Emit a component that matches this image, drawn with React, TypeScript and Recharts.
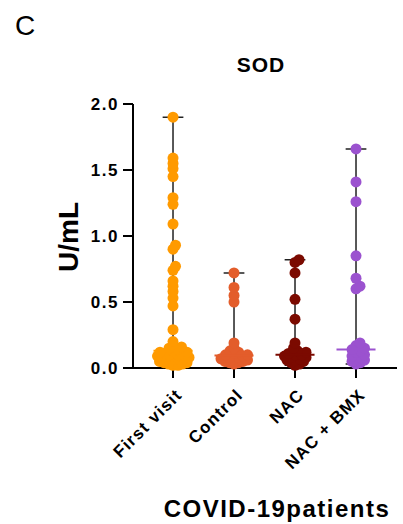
import React from 'react';
import { ScatterChart, Scatter, XAxis, YAxis } from 'recharts';

const groups = ['First visit', 'Control', 'NAC', 'NAC + BMX'];
const colors = ['#FF9A00', '#E35D2B', '#7B0A00', '#9B52CF'];

const firstVisit = [
  1.9, 1.59, 1.55, 1.51, 1.45, 1.29, 1.24, 1.09, 0.93, 0.9, 0.77, 0.74, 0.66, 0.62, 0.58, 0.53, 0.47, 0.29,
  0.2, 0.16, 0.15, 0.14, 0.13, 0.12, 0.12, 0.11, 0.11, 0.1, 0.1, 0.09, 0.09, 0.08, 0.08,
  0.07, 0.07, 0.06, 0.06, 0.05, 0.05, 0.04, 0.04, 0.03, 0.03, 0.02, 0.02,
];
const control = [
  0.72, 0.61, 0.55, 0.5, 0.19, 0.15, 0.13, 0.12, 0.11, 0.1, 0.1, 0.09, 0.08, 0.08, 0.07, 0.07, 0.06, 0.05,
  0.05, 0.04, 0.04, 0.03,
];
const nac = [
  0.82, 0.8, 0.72, 0.52, 0.37, 0.19, 0.15, 0.13, 0.12, 0.11, 0.1, 0.1, 0.09, 0.08, 0.08, 0.07, 0.06, 0.06,
  0.05, 0.04, 0.03, 0.02,
];
const nacBmx = [
  1.66, 1.41, 1.26, 0.85, 0.68, 0.62, 0.6, 0.19, 0.17, 0.15, 0.14, 0.13, 0.12, 0.1, 0.09, 0.08, 0.07, 0.06,
  0.05, 0.04, 0.03,
];
const allGroups = [firstVisit, control, nac, nacBmx];

const yTicks = [0, 0.5, 1, 1.5, 2];

// rough pixel scale of the plot, only used to spread close points sideways
const PX_X = 61;
const PX_Y = 132;
const R = 5.5;
const CAP = 0.17;
const MED = 0.32;

const font = '"Liberation Sans", Arial, sans-serif';

function swarm(values: number[], center: number) {
  const sorted = [...values].sort((a, b) => a - b);
  const placed: { dx: number; py: number }[] = [];
  const minD = 4.6;
  return sorted.map((v) => {
    const py = v * PX_Y;
    let best = 0;
    for (let k = 0; k < 400; k++) {
      const cand = k === 0 ? 0 : (k % 2 ? 1 : -1) * Math.ceil(k / 2) * 0.5;
      const ok = placed.every((p) => (p.dx - cand) ** 2 + (p.py - py) ** 2 >= minD * minD);
      if (ok) {
        best = cand;
        break;
      }
    }
    placed.push({ dx: best, py });
    return { x: center + best / PX_X, y: v };
  });
}

function median(values: number[]) {
  const s = [...values].sort((a, b) => a - b);
  const m = Math.floor(s.length / 2);
  return s.length % 2 ? s[m] : (s[m - 1] + s[m]) / 2;
}

function whisker(values: number[], c: number) {
  const lo = Math.min(...values);
  const hi = Math.max(...values);
  return [
    { x: c - CAP, y: hi },
    { x: c + CAP, y: hi },
    { x: c, y: hi },
    { x: c, y: lo },
    { x: c - CAP, y: lo },
    { x: c + CAP, y: lo },
  ];
}

const XTick = (props: any) => {
  const { x, y, payload } = props;
  const label = groups[payload.value - 1];
  const tx = x + 10;
  const ty = y + 16;
  return (
    <text
      x={tx}
      y={ty}
      transform={`rotate(-45, ${tx}, ${ty})`}
      textAnchor="end"
      fontFamily={font}
      fontWeight="bold"
      fontSize={17}
      letterSpacing={1.2}
      fill="#000"
    >
      {label}
    </text>
  );
};

const noShape = () => <g />;

export default function App() {
  return (
    <div style={{ position: 'absolute', left: 0, top: 0, width: 403, height: 524, background: '#fff' }}>
      <ScatterChart width={403} height={524} margin={{ top: 104, right: 6, left: 0, bottom: 96 }}>
        <XAxis
          type="number"
          dataKey="x"
          domain={[0.344, 4.672]}
          ticks={[1, 2, 3, 4]}
          allowDataOverflow
          height={60}
          tickSize={10}
          axisLine={{ stroke: '#000', strokeWidth: 2 }}
          tickLine={{ stroke: '#000', strokeWidth: 2 }}
          tick={<XTick />}
        />
        <YAxis
          type="number"
          dataKey="y"
          domain={[0, 2]}
          ticks={yTicks}
          width={133}
          tickSize={10}
          tickMargin={4}
          tickFormatter={(v: number) => v.toFixed(1)}
          axisLine={{ stroke: '#000', strokeWidth: 2 }}
          tickLine={{ stroke: '#000', strokeWidth: 2 }}
          tick={{ fill: '#000', fontSize: 17, fontWeight: 'bold', fontFamily: font, letterSpacing: 1.5 }}
        />
        {allGroups.map((vals, i) => (
          <Scatter
            key={'w' + i}
            data={whisker(vals, i + 1)}
            line={{ stroke: '#222', strokeWidth: 1.5 }}
            lineType="joint"
            shape={noShape}
            isAnimationActive={false}
          />
        ))}
        {allGroups.map((vals, i) => (
          <Scatter
            key={'p' + i}
            data={swarm(vals, i + 1)}
            shape={(p: any) => <circle cx={p.cx} cy={p.cy} r={R} fill={colors[i]} />}
            isAnimationActive={false}
          />
        ))}
        {allGroups.map((vals, i) => (
          <Scatter
            key={'m' + i}
            data={[
              { x: i + 1 - MED, y: median(vals) },
              { x: i + 1 + MED, y: median(vals) },
            ]}
            line={{ stroke: colors[i], strokeWidth: 2 }}
            lineType="joint"
            shape={noShape}
            isAnimationActive={false}
          />
        ))}
      </ScatterChart>
      <svg
        width={403}
        height={524}
        style={{ position: 'absolute', left: 0, top: 0, pointerEvents: 'none' }}
      >
        <text x={15} y={35} fontFamily={font} fontSize={28} fill="#000">
          C
        </text>
        <text x={261} y={72} textAnchor="middle" fontFamily={font} fontWeight="bold" fontSize={21} letterSpacing={1} fill="#000">
          SOD
        </text>
        <text
          x={78}
          y={237}
          transform="rotate(-90, 78, 237)"
          textAnchor="middle"
          fontFamily={font}
          fontWeight="bold"
          fontSize={28}
          fill="#000"
        >
          U/mL
        </text>
        <text x={277} y={517} textAnchor="middle" fontFamily={font} fontWeight="bold" fontSize={24} letterSpacing={1.5} fill="#000">
          COVID-19patients
        </text>
      </svg>
    </div>
  );
}
